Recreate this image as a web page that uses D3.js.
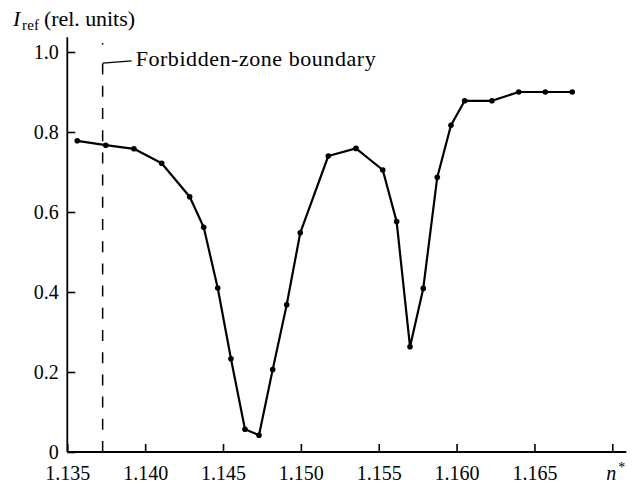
<!DOCTYPE html>
<html>
<head>
<meta charset="utf-8">
<script src="https://cdn.jsdelivr.net/npm/d3@7"></script>
<style>
body { margin: 0; background: #fff; }
svg text { font-family: "Liberation Serif", "Tinos", "Times New Roman", "DejaVu Serif", serif; fill: #000; }
</style>
</head>
<body>
<svg id="chart" width="637" height="484"></svg>
<script>
// refractive index n* of each measured point
const nValues = [1.13564, 1.13747, 1.13928, 1.14106, 1.14286, 1.14376, 1.14466, 1.14551, 1.14641,
    1.14731, 1.14819, 1.14909, 1.14996, 1.15176, 1.15354, 1.15526, 1.15615, 1.15701, 1.15786,
    1.15876, 1.15964, 1.16052, 1.16227, 1.16399, 1.16570, 1.16743]
// reflected intensity (rel. units)
const intensity = [0.778, 0.767, 0.758, 0.722, 0.638, 0.562, 0.410, 0.233, 0.057,
    0.042, 0.206, 0.368, 0.548, 0.740, 0.759, 0.705, 0.576, 0.263, 0.409,
    0.687, 0.817, 0.878, 0.878, 0.900, 0.900, 0.900]

const xTicks = [1.135, 1.140, 1.145, 1.150, 1.155, 1.160, 1.165, 1.170]
const yTicks = [0, 0.2, 0.4, 0.6, 0.8, 1.0]

// forbidden-zone boundary
const boundary = 1.13727
const boundaryLabel = "Forbidden-zone boundary"

const serif = "'Liberation Serif', 'Tinos', 'Times New Roman', 'DejaVu Serif', serif"

let svg = d3.select("#chart")

let xScale = d3.scaleLinear()
    .domain([1.135, 1.170])
    .range([67.3, 612.3])

let yScale = d3.scaleLinear()
    .domain([0, 1])
    .range([452, 52])

// axes, ticks pointing inward
let xAxis = d3.axisBottom(xScale)
    .tickValues(xTicks)
    .tickSizeInner(-8)
    .tickSizeOuter(0)
    .tickPadding(13.3)
    .tickFormat(function (d) { return d > 1.1675 ? "" : d3.format(".3f")(d) })

let yAxis = d3.axisLeft(yScale)
    .tickValues(yTicks)
    .tickSizeInner(-8)
    .tickSizeOuter(0)
    .tickPadding(8.5)
    .tickFormat(function (d) { return d == 0 ? "0" : d3.format(".1f")(d) })

let xg = svg.append("g")
    .attr("transform", "translate(0," + yScale(0) + ")")
    .call(xAxis)

let yg = svg.append("g")
    .attr("transform", "translate(" + xScale(1.135) + ",0)")
    .call(yAxis)

svg.selectAll("g").attr("font-family", null).attr("font-size", null)
svg.selectAll(".domain").remove()
svg.selectAll(".tick line").attr("stroke", "#000").attr("stroke-width", 1.6)
svg.selectAll(".tick text")
    .style("font-family", serif)
    .style("font-size", "20px")
    .attr("fill", "#000")

// axis lines run a bit past the last tick
svg.append("line")
    .attr("x1", xScale(1.135)).attr("x2", xScale(1.1709))
    .attr("y1", yScale(0)).attr("y2", yScale(0))
    .attr("stroke", "#000").attr("stroke-width", 1.8)

svg.append("line")
    .attr("x1", xScale(1.135)).attr("x2", xScale(1.135))
    .attr("y1", yScale(0)).attr("y2", yScale(1.037))
    .attr("stroke", "#000").attr("stroke-width", 1.8)

// axis labels
let xlab = svg.append("text")
    .attr("x", xScale(1.170) - 6)
    .attr("y", yScale(0) + 27.5)
    .style("font-family", serif)
    .style("font-size", "20px")
xlab.append("tspan").style("font-style", "italic").text("n")
xlab.append("tspan").attr("dx", 2).attr("dy", -8).style("font-size", "14px").text("*")

let ylab = svg.append("g").style("font-family", serif)
ylab.append("text")
    .attr("x", 13).attr("y", 26)
    .style("font-size", "22px").style("font-style", "italic")
    .text("I")
ylab.append("text")
    .attr("x", 22).attr("y", 30)
    .style("font-size", "15px")
    .attr("textLength", 17).attr("lengthAdjust", "spacing")
    .text("ref")
ylab.append("text")
    .attr("x", 44).attr("y", 26)
    .style("font-size", "22px")
    .attr("textLength", 91).attr("lengthAdjust", "spacing")
    .text("(rel. units)")

// boundary line
svg.append("line")
    .attr("x1", xScale(boundary)).attr("x2", xScale(boundary))
    .attr("y1", yScale(0)).attr("y2", yScale(0.993))
    .attr("stroke", "#000")
    .attr("stroke-width", 1.5)
    .attr("stroke-dasharray", "11,11.2")

svg.append("line")
    .attr("x1", xScale(boundary)).attr("x2", xScale(boundary))
    .attr("y1", yScale(1.0225)).attr("y2", yScale(1.0185))
    .attr("stroke", "#000")
    .attr("stroke-width", 1.5)

svg.append("line")
    .attr("x1", xScale(boundary)).attr("x2", xScale(boundary) + 29)
    .attr("y1", yScale(0.972)).attr("y2", yScale(0.978))
    .attr("stroke", "#000")
    .attr("stroke-width", 1.2)

svg.append("text")
    .attr("x", xScale(boundary) + 33)
    .attr("y", yScale(0.965))
    .style("font-family", serif)
    .style("font-size", "22px")
    .attr("textLength", 240).attr("lengthAdjust", "spacing")
    .text(boundaryLabel)

// data line and points
let points = nValues.map(function (n, i) { return { n: n, v: intensity[i] } })

let line = d3.line()
    .x(function (d) { return xScale(d.n) })
    .y(function (d) { return yScale(d.v) })

svg.append("path")
    .datum(points)
    .attr("d", line)
    .attr("fill", "none")
    .attr("stroke", "#000")
    .attr("stroke-width", 2.2)
    .attr("stroke-linejoin", "round")

svg.selectAll("circle")
    .data(points)
    .enter()
    .append("circle")
    .attr("cx", function (d) { return xScale(d.n) })
    .attr("cy", function (d) { return yScale(d.v) })
    .attr("r", 2.8)
    .attr("fill", "#000")
</script>
</body>
</html>
